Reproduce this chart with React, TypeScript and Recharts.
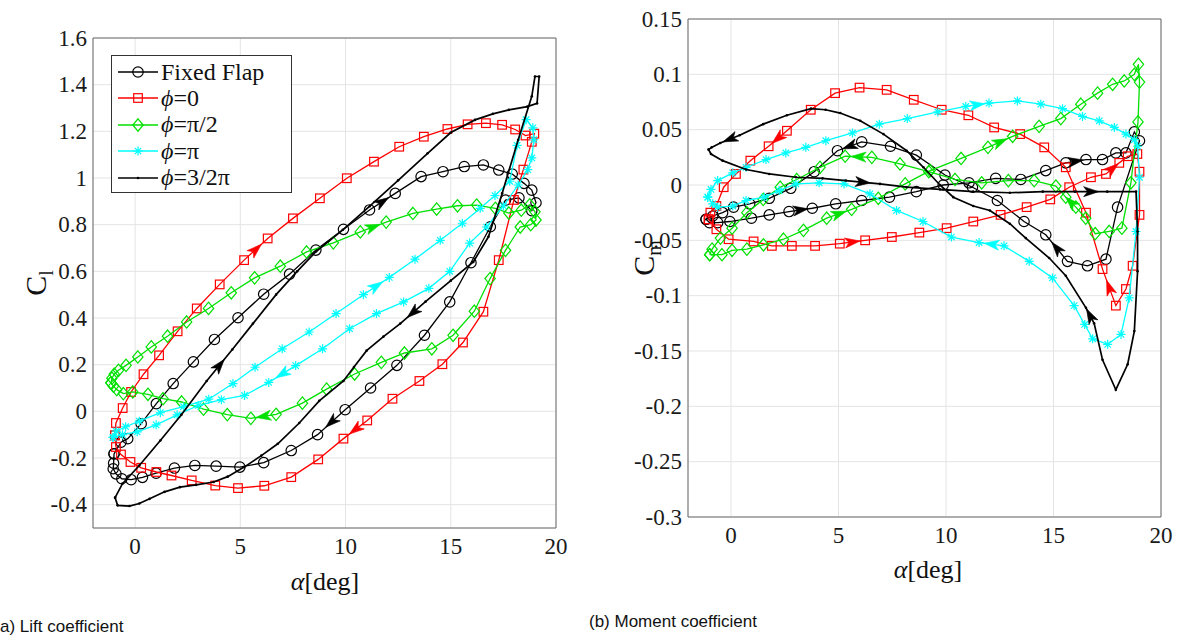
import React from "react";
import { ScatterChart, Scatter, XAxis, YAxis, CartesianGrid, ReferenceArea } from "recharts";

type Pt = [number, number];

const SERIF = '"Liberation Serif", "Times New Roman", serif';
const SANS = '"Liberation Sans", Arial, sans-serif';

// shared angle axis
const alphaDomain: [number, number] = [-2, 20];
const alphaTicks = [0, 5, 10, 15, 20];

// (a) lift coefficient, each loop as [alpha, Cl], in the order it is traced
const clFixedFlap: Pt[] = [
  [-1.0, -0.182], [-0.67, -0.132], [-0.35, -0.117], [0.29, -0.053], [1.01, 0.033], [1.81, 0.119],
  [2.77, 0.212], [3.77, 0.308], [4.89, 0.401], [6.11, 0.502], [7.34, 0.588], [8.59, 0.691],
  [9.9, 0.78], [11.14, 0.863], [12.36, 0.934], [13.59, 1.006], [14.63, 1.027], [15.64, 1.049],
  [16.55, 1.056], [17.28, 1.034], [17.92, 1.017], [18.48, 0.977], [18.85, 0.948], [19.05, 0.894],
  [18.85, 0.86], [18.24, 0.915], [17.6, 0.905], [16.88, 0.791], [15.96, 0.637], [14.95, 0.469],
  [13.75, 0.326], [12.44, 0.197], [11.19, 0.1], [9.98, 0.007], [8.67, -0.1], [7.42, -0.168],
  [6.11, -0.22], [4.98, -0.239], [3.85, -0.235], [2.84, -0.232], [1.87, -0.243], [1.0, -0.265],
  [0.35, -0.283], [-0.19, -0.293], [-0.63, -0.289], [-0.91, -0.268], [-1.04, -0.246], [-1.02, -0.222],
];
const clFixedFlapArrows = [13, 33];

const clPhi0: Pt[] = [
  [-0.96, -0.103], [-0.91, -0.05], [-0.59, 0.014], [-0.19, 0.083], [0.4, 0.159], [1.14, 0.24],
  [2.02, 0.343], [2.93, 0.441], [4.02, 0.544], [5.18, 0.648], [6.3, 0.741], [7.5, 0.827],
  [8.78, 0.913], [10.06, 0.999], [11.35, 1.07], [12.55, 1.134], [13.72, 1.177], [14.84, 1.21],
  [15.8, 1.23], [16.67, 1.235], [17.44, 1.228], [18.06, 1.208], [18.55, 1.182], [18.97, 1.19],
  [18.85, 1.155], [18.45, 1.036], [18.0, 0.906], [17.28, 0.648], [16.55, 0.427], [15.58, 0.295],
  [14.6, 0.202], [13.51, 0.13], [12.23, 0.054], [11.03, -0.039], [9.9, -0.117], [8.7, -0.206],
  [7.42, -0.282], [6.14, -0.319], [4.89, -0.329], [3.81, -0.318], [2.69, -0.296], [1.73, -0.275],
  [1.01, -0.26], [0.29, -0.242], [-0.22, -0.217], [-0.67, -0.185], [-0.91, -0.153],
];
const clPhi0Arrows = [9, 33];

const clPhiHalfPi: Pt[] = [
  [-1.15, 0.122], [-1.1, 0.142], [-0.99, 0.159], [-0.79, 0.176], [-0.43, 0.197], [0.13, 0.233],
  [0.77, 0.276], [1.54, 0.322], [2.45, 0.383], [3.49, 0.441], [4.57, 0.508], [5.68, 0.572],
  [6.9, 0.622], [8.15, 0.683], [9.42, 0.722], [10.7, 0.769], [11.93, 0.811], [13.2, 0.848],
  [14.33, 0.867], [15.32, 0.881], [16.23, 0.884], [17.12, 0.87], [17.76, 0.85], [18.35, 0.862],
  [18.75, 0.885], [19.0, 0.855], [19.05, 0.82], [18.8, 0.8], [18.3, 0.79], [17.6, 0.69],
  [16.87, 0.569], [16.12, 0.429], [15.11, 0.326], [14.1, 0.268], [12.8, 0.25], [11.7, 0.21],
  [10.43, 0.16], [9.1, 0.095], [7.95, 0.035], [6.7, -0.013], [5.5, -0.03], [4.38, -0.014],
  [3.25, 0.009], [2.21, 0.04], [1.33, 0.054], [0.61, 0.073], [-0.11, 0.083], [-0.56, 0.076],
  [-0.87, 0.093], [-1.03, 0.108],
];
const clPhiHalfPiArrows = [15, 39];

const clPhiPi: Pt[] = [
  [-1.05, -0.112], [-0.9, -0.085], [-0.45, -0.066], [0.2, -0.042], [1.2, -0.006], [2.3, 0.02],
  [3.5, 0.052], [4.65, 0.119], [5.7, 0.189], [6.99, 0.268], [8.27, 0.34], [9.55, 0.419],
  [10.85, 0.5], [12.08, 0.574], [13.3, 0.652], [14.5, 0.733], [15.55, 0.806], [16.4, 0.87],
  [17.1, 0.925], [17.8, 0.986], [18.15, 1.14], [18.58, 1.25], [18.9, 1.215], [18.95, 1.164],
  [18.85, 1.086], [18.66, 1.036], [18.2, 0.97], [17.5, 0.88], [16.7, 0.79], [15.9, 0.721],
  [14.95, 0.6], [13.96, 0.527], [12.76, 0.469], [11.47, 0.419], [10.19, 0.354], [8.91, 0.268],
  [7.63, 0.196], [6.35, 0.124], [5.2, 0.068], [4.1, 0.05], [3.0, 0.025], [2.0, -0.015],
  [1.0, -0.058], [0.1, -0.088], [-0.6, -0.1],
];
const clPhiPiArrows = [12, 36];

const clPhi3HalfPi: Pt[] = [
  [-0.95, -0.37], [-0.6, -0.31], [0.2, -0.232], [1.2, -0.125], [2.2, -0.015], [3.4, 0.13],
  [4.62, 0.265], [5.6, 0.376], [6.7, 0.5], [7.7, 0.6], [8.6, 0.685], [9.87, 0.778],
  [11.15, 0.879], [12.5, 0.99], [13.9, 1.106], [15.0, 1.195], [16.15, 1.249], [17.0, 1.275],
  [17.76, 1.292], [18.64, 1.306], [19.1, 1.32], [19.2, 1.435], [19.0, 1.435], [18.85, 1.35],
  [18.2, 1.163], [17.44, 0.934], [16.79, 0.748], [16.07, 0.64], [15.0, 0.56], [13.8, 0.47],
  [12.6, 0.376], [11.8, 0.32], [11.0, 0.26], [10.4, 0.19], [9.9, 0.13], [8.75, 0.045],
  [7.8, -0.05], [6.78, -0.139], [6.0, -0.19], [5.18, -0.239], [4.4, -0.28], [3.73, -0.303],
  [2.9, -0.315], [2.13, -0.325], [1.4, -0.345], [0.69, -0.375], [0.2, -0.395], [-0.27, -0.406],
  [-0.83, -0.403],
];
const clPhi3HalfPiArrows = [5, 29];

const clDomain: [number, number] = [-0.5, 1.6];
const clTicks = [-0.4, -0.2, 0, 0.2, 0.4, 0.6, 0.8, 1, 1.2, 1.4, 1.6];

// (b) moment coefficient, [alpha, Cm]
const cmFixedFlap: Pt[] = [
  [-1.16, -0.031], [-1.0, -0.034], [-0.62, -0.034], [-0.05, -0.033], [0.95, -0.03], [1.78, -0.027],
  [2.7, -0.024], [3.78, -0.021], [4.87, -0.017], [6.08, -0.014], [7.37, -0.011], [8.62, -0.006],
  [9.87, 0.0], [11.07, 0.002], [12.31, 0.006], [13.48, 0.005], [14.64, 0.013], [15.57, 0.02],
  [16.51, 0.023], [17.28, 0.023], [17.9, 0.029], [18.37, 0.029], [18.76, 0.048], [19.0, 0.04],
  [17.98, -0.02], [17.44, -0.067], [16.58, -0.073], [15.65, -0.069], [14.64, -0.045], [13.63, -0.033],
  [12.39, -0.014], [11.23, -0.002], [9.95, 0.009], [8.62, 0.027], [7.42, 0.035], [6.08, 0.039],
  [4.95, 0.031], [3.87, 0.012], [2.78, -0.003], [1.78, -0.012], [0.87, -0.017], [0.12, -0.02],
  [-0.39, -0.025], [-0.85, -0.028],
];
const cmFixedFlapArrows = [6, 17, 27, 35];

const cmPhi0: Pt[] = [
  [-1.04, -0.031], [-0.68, -0.04], [-0.11, -0.049], [1.05, -0.051], [1.9, -0.055], [2.83, -0.055],
  [3.91, -0.055], [5.06, -0.053], [6.24, -0.05], [7.48, -0.047], [8.76, -0.043], [10.03, -0.039],
  [11.27, -0.033], [12.54, -0.027], [13.75, -0.02], [14.85, -0.013], [15.73, -0.002], [16.74, 0.007],
  [17.44, 0.01], [18.06, 0.02], [18.45, 0.026], [18.9, 0.028], [19.0, 0.012], [19.0, -0.027],
  [18.68, -0.073], [18.37, -0.094], [17.9, -0.109], [17.28, -0.076], [16.51, -0.025], [15.57, 0.016],
  [14.57, 0.034], [13.45, 0.046], [12.24, 0.052], [11.04, 0.063], [9.8, 0.068], [8.5, 0.077],
  [7.24, 0.086], [5.98, 0.088], [4.84, 0.083], [3.71, 0.068], [2.6, 0.049], [1.75, 0.035],
  [0.9, 0.022], [0.23, 0.01], [-0.34, -0.002], [-0.68, -0.019], [-0.96, -0.025],
];
const cmPhi0Arrows = [7, 18, 26, 40];

const cmPhiHalfPi: Pt[] = [
  [-0.99, -0.063], [-0.42, -0.063], [0.05, -0.059], [0.74, -0.058], [1.51, -0.054], [2.44, -0.049],
  [3.37, -0.041], [4.45, -0.03], [5.61, -0.022], [6.85, -0.012], [8.1, 0.001], [9.26, 0.013],
  [10.7, 0.024], [11.95, 0.034], [13.1, 0.044], [14.33, 0.053], [15.34, 0.06], [16.27, 0.073],
  [17.05, 0.083], [17.75, 0.091], [18.29, 0.094], [18.76, 0.1], [18.95, 0.109], [19.0, 0.093],
  [18.93, 0.057], [18.6, 0.002], [18.18, -0.039], [17.59, -0.042], [16.94, -0.044], [16.5, -0.03],
  [16.04, -0.02], [15.57, -0.011], [15.11, -0.001], [14.1, 0.004], [12.9, 0.004], [11.66, 0.002],
  [10.42, 0.005], [9.2, 0.012], [7.86, 0.019], [6.55, 0.025], [5.31, 0.026], [4.14, 0.016],
  [3.06, 0.005], [2.29, -0.002], [1.5, -0.013], [0.74, -0.025], [0.05, -0.039], [-0.49, -0.048],
  [-0.88, -0.058],
];
const cmPhiHalfPiArrows = [7, 13, 30, 39];

const cmPhiPi: Pt[] = [
  [-1.08, -0.011], [-0.93, -0.004], [-0.62, 0.004], [0.08, 0.011], [0.7, 0.016], [1.63, 0.023],
  [2.55, 0.029], [3.48, 0.034], [4.41, 0.04], [5.65, 0.047], [6.9, 0.055], [8.2, 0.06],
  [9.62, 0.066], [10.92, 0.071], [12.0, 0.074], [13.32, 0.076], [14.41, 0.073], [15.42, 0.069],
  [16.35, 0.062], [17.13, 0.058], [17.83, 0.052], [18.37, 0.046], [18.76, 0.041], [18.91, 0.035],
  [19.0, 0.007], [18.84, -0.042], [18.52, -0.102], [18.14, -0.135], [17.52, -0.144], [16.82, -0.139],
  [16.45, -0.126], [15.96, -0.109], [14.95, -0.084], [13.87, -0.069], [12.7, -0.055], [11.54, -0.052],
  [10.25, -0.047], [8.93, -0.033], [7.7, -0.023], [6.46, -0.008], [5.26, 0.001], [4.1, 0.002],
  [3.02, 0.001], [2.24, -0.005], [1.55, -0.011], [0.7, -0.014], [0.08, -0.019], [-0.62, -0.02],
  [-0.85, -0.017],
];
const cmPhiPiArrows = [13, 34];

const cmPhi3HalfPi: Pt[] = [
  [-1.04, 0.032], [-0.93, 0.028], [-0.39, 0.022], [0.7, 0.014], [1.78, 0.01], [3.02, 0.007],
  [4.26, 0.006], [5.34, 0.004], [6.93, 0.001], [8.17, -0.002], [9.72, -0.004], [11.27, -0.006],
  [12.97, -0.007], [14.5, -0.006], [16.0, -0.006], [17.5, -0.006], [18.84, -0.006], [18.91, -0.042],
  [18.91, -0.078], [18.76, -0.132], [18.45, -0.162], [17.9, -0.185], [17.28, -0.158], [16.89, -0.125],
  [16.51, -0.111], [15.57, -0.082], [14.8, -0.066], [13.71, -0.048], [12.97, -0.035], [12.04, -0.023],
  [11.27, -0.019], [10.34, -0.011], [9.72, 0.0], [8.95, 0.016], [8.17, 0.031], [7.09, 0.046],
  [6.01, 0.058], [5.08, 0.065], [4.4, 0.068], [3.72, 0.069], [2.6, 0.063], [1.5, 0.055],
  [0.4, 0.045], [-0.5, 0.038], [-0.9, 0.034],
];
const cmPhi3HalfPiArrows = [7, 14, 23, 42];

const cmDomain: [number, number] = [-0.3, 0.15];
const cmTicks = [-0.3, -0.25, -0.2, -0.15, -0.1, -0.05, 0, 0.05, 0.1, 0.15];

const legendNames = ["Fixed Flap", "=0", "=\u03c0/2", "=\u03c0", "=3/2\u03c0"];
const seriesColors = ["#000000", "#ff0000", "#00e000", "#00ffff", "#000000"];
const seriesMarkers = ["circle", "square", "diamond", "star", "dot"];
const seriesWidths = [1.3, 1.3, 1.3, 1.3, 1.7];

type Series = { points: Pt[]; arrows: number[] };

const clSeries: Series[] = [
  { points: clFixedFlap, arrows: clFixedFlapArrows },
  { points: clPhi0, arrows: clPhi0Arrows },
  { points: clPhiHalfPi, arrows: clPhiHalfPiArrows },
  { points: clPhiPi, arrows: clPhiPiArrows },
  { points: clPhi3HalfPi, arrows: clPhi3HalfPiArrows },
];
const cmSeries: Series[] = [
  { points: cmFixedFlap, arrows: cmFixedFlapArrows },
  { points: cmPhi0, arrows: cmPhi0Arrows },
  { points: cmPhiHalfPi, arrows: cmPhiHalfPiArrows },
  { points: cmPhiPi, arrows: cmPhiPiArrows },
  { points: cmPhi3HalfPi, arrows: cmPhi3HalfPiArrows },
];

// close the loop by going back to the first point
const loopData = (pts: Pt[]) => [...pts, pts[0]].map(([x, y]) => ({ x, y }));

const arrowData = (pts: Pt[], idx: number[]) =>
  idx.map((i) => {
    const [x0, y0] = pts[i];
    const [x1, y1] = pts[(i + 1) % pts.length];
    return { x: (x0 + x1) / 2, y: (y0 + y1) / 2, dx: x1 - x0, dy: y1 - y0 };
  });

function Marker({ kind, color, cx, cy }: { kind: string; color: string; cx: number; cy: number }) {
  if (kind === "circle") return <circle cx={cx} cy={cy} r={5.2} fill="none" stroke={color} strokeWidth={1.2} />;
  if (kind === "square")
    return <rect x={cx - 4.3} y={cy - 4.3} width={8.6} height={8.6} fill="none" stroke={color} strokeWidth={1.2} />;
  if (kind === "diamond")
    return (
      <path
        d={`M${cx},${cy - 6.2} L${cx + 5.2},${cy} L${cx},${cy + 6.2} L${cx - 5.2},${cy} Z`}
        fill="none"
        stroke={color}
        strokeWidth={1.2}
      />
    );
  if (kind === "star")
    return (
      <path
        d={`M${cx - 4.5},${cy} H${cx + 4.5} M${cx},${cy - 4.5} V${cy + 4.5} M${cx - 3.2},${cy - 3.2} L${cx + 3.2},${cy + 3.2} M${cx - 3.2},${cy + 3.2} L${cx + 3.2},${cy - 3.2}`}
        fill="none"
        stroke={color}
        strokeWidth={1.2}
      />
    );
  return <circle cx={cx} cy={cy} r={1.3} fill={color} />;
}

const markerShape = (kind: string, color: string) => (props: any) => {
  const { cx, cy } = props;
  if (cx == null || cy == null) return <g />;
  return <Marker kind={kind} color={color} cx={cx} cy={cy} />;
};

const arrowShape = (color: string, kx: number, ky: number) => (props: any) => {
  const { cx, cy } = props;
  const p = props.payload ?? props;
  if (cx == null || cy == null) return <g />;
  const ang = (Math.atan2(-p.dy * ky, p.dx * kx) * 180) / Math.PI;
  return (
    <path
      d="M7.5,0 L-7.5,-5 L-3.5,0 L-7.5,5 Z"
      transform={`translate(${cx},${cy}) rotate(${ang})`}
      fill={color}
      stroke={color}
      strokeWidth={0.6}
    />
  );
};

const XTick = (props: any) => {
  const { x, y, payload } = props;
  return (
    <text x={x} y={y} dy="0.75em" textAnchor="middle" fill="#1a1a1a" style={{ fontFamily: SERIF, fontSize: 23 }}>
      {String(payload.value)}
    </text>
  );
};

const YTick = (props: any) => {
  const { x, y, payload } = props;
  return (
    <text x={x} y={y} dy="0.34em" textAnchor="end" fill="#1a1a1a" style={{ fontFamily: SERIF, fontSize: 23 }}>
      {String(payload.value)}
    </text>
  );
};

interface PanelProps {
  left: number;
  plotLeft: number;
  plotTop: number;
  plotW: number;
  plotH: number;
  yDomain: [number, number];
  yTicks: number[];
  series: Series[];
}

function Panel({ left, plotLeft, plotTop, plotW, plotH, yDomain, yTicks, series }: PanelProps) {
  const yAxisW = 70;
  const xAxisH = 40;
  const width = plotLeft + plotW + 20;
  const height = plotTop + plotH + xAxisH + 10;
  const kx = plotW / (alphaDomain[1] - alphaDomain[0]);
  const ky = plotH / (yDomain[1] - yDomain[0]);

  return (
    <div style={{ position: "absolute", left, top: 0 }}>
      <ScatterChart
        width={width}
        height={height}
        margin={{ top: plotTop, right: 20, bottom: 10, left: plotLeft - yAxisW }}
      >
        <CartesianGrid stroke="#e4e4e4" />
        <XAxis
          type="number"
          dataKey="x"
          domain={alphaDomain}
          ticks={alphaTicks}
          allowDataOverflow
          height={xAxisH}
          tick={<XTick />}
          tickLine={false}
          axisLine={false}
          tickMargin={3}
        />
        <YAxis
          type="number"
          dataKey="y"
          domain={yDomain}
          ticks={yTicks}
          allowDataOverflow
          width={yAxisW}
          tick={<YTick />}
          tickLine={false}
          axisLine={false}
          tickMargin={0}
        />
        <ReferenceArea
          x1={alphaDomain[0]}
          x2={alphaDomain[1]}
          y1={yDomain[0]}
          y2={yDomain[1]}
          fill="none"
          stroke="#6a6a6a"
          strokeWidth={1}
          ifOverflow="visible"
        />
        {series.map((s, i) => (
          <Scatter
            key={`line-${i}`}
            data={loopData(s.points)}
            line={{ stroke: seriesColors[i], strokeWidth: seriesWidths[i] }}
            lineType="joint"
            fill="none"
            shape={markerShape(seriesMarkers[i], seriesColors[i])}
            isAnimationActive={false}
          />
        ))}
        {series.map((s, i) => (
          <Scatter
            key={`arrow-${i}`}
            data={arrowData(s.points, s.arrows)}
            fill={seriesColors[i]}
            shape={arrowShape(seriesColors[i], kx, ky)}
            isAnimationActive={false}
          />
        ))}
      </ScatterChart>
    </div>
  );
}

function Legend() {
  return (
    <div
      style={{
        position: "absolute",
        left: 111,
        top: 55,
        width: 181,
        height: 138,
        border: "1px solid #333",
        background: "#fff",
        boxSizing: "border-box",
      }}
    >
      {legendNames.map((name, i) => (
        <div
          key={name}
          style={{
            position: "absolute",
            left: 5,
            top: 3 + i * 26.4,
            height: 26,
            display: "flex",
            alignItems: "center",
            whiteSpace: "nowrap",
          }}
        >
          <svg width={42} height={26}>
            <line x1={1} y1={13} x2={41} y2={13} stroke={seriesColors[i]} strokeWidth={seriesWidths[i]} />
            <Marker kind={seriesMarkers[i]} color={seriesColors[i]} cx={21} cy={13} />
          </svg>
          <span style={{ fontFamily: SERIF, fontSize: 24, marginLeft: 2, color: "#111" }}>
            {i > 0 && <i>{"\u03d5"}</i>}
            {name}
          </span>
        </div>
      ))}
    </div>
  );
}

const textBase: React.CSSProperties = {
  position: "absolute",
  transform: "translate(-50%, -50%)",
  whiteSpace: "nowrap",
  color: "#111",
};

export default function App() {
  return (
    <div
      style={{
        position: "absolute",
        left: 0,
        top: 0,
        width: 1186,
        height: 637,
        background: "#fff",
        overflow: "hidden",
      }}
    >
      <Panel
        left={0}
        plotLeft={93}
        plotTop={38}
        plotW={463}
        plotH={490}
        yDomain={clDomain}
        yTicks={clTicks}
        series={clSeries}
      />
      <Panel
        left={600}
        plotLeft={88}
        plotTop={19}
        plotW={473}
        plotH={498}
        yDomain={cmDomain}
        yTicks={cmTicks}
        series={cmSeries}
      />
      <Legend />

      <div style={{ ...textBase, left: 38, top: 283, transform: "translate(-50%, -50%) rotate(-90deg)", fontFamily: SERIF, fontSize: 30 }}>
        C<sub style={{ fontSize: 20 }}>l</sub>
      </div>
      <div style={{ ...textBase, left: 646, top: 258, transform: "translate(-50%, -50%) rotate(-90deg)", fontFamily: SERIF, fontSize: 30 }}>
        C<sub style={{ fontSize: 20 }}>m</sub>
      </div>

      <div style={{ ...textBase, left: 325, top: 582, fontFamily: SERIF, fontSize: 26 }}>
        <i>α</i>[deg]
      </div>
      <div style={{ ...textBase, left: 928, top: 570, fontFamily: SERIF, fontSize: 26 }}>
        <i>α</i>[deg]
      </div>

      <div style={{ position: "absolute", left: 0, top: 617, fontFamily: SANS, fontSize: 17, color: "#111", whiteSpace: "nowrap" }}>
        a) Lift coefficient
      </div>
      <div style={{ position: "absolute", left: 589, top: 612, fontFamily: SANS, fontSize: 17, color: "#111", whiteSpace: "nowrap" }}>
        (b) Moment coefficient
      </div>
    </div>
  );
}
